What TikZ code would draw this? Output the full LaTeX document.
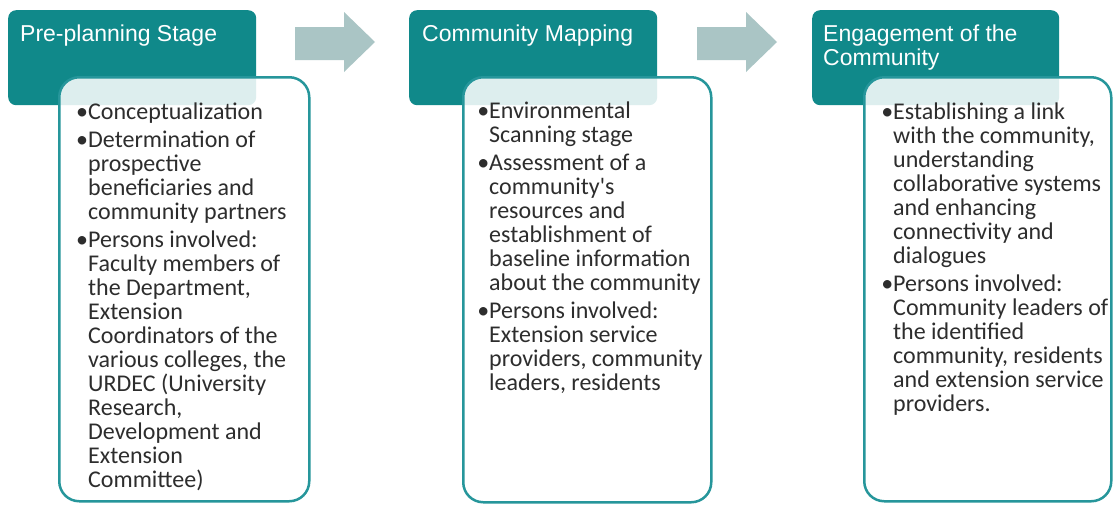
\documentclass[tikz,border=0pt]{standalone}
\usepackage{fontspec}
\setmainfont{Carlito}[Ligatures=TeXOff]
\newfontfamily\hdfont{Liberation Sans}
\definecolor{hdteal}{RGB}{16,137,138}
\definecolor{bdteal}{RGB}{38,150,155}
\definecolor{arrowgray}{RGB}{170,197,197}
\definecolor{bodytext}{RGB}{45,45,45}
\tikzset{
  header/.style={fill=hdteal, draw=none, rounded corners=8pt, anchor=north west, inner sep=0pt},
  card/.style={draw=bdteal, line width=2.5pt, fill=white, fill opacity=0.86, rounded corners=20pt, anchor=north west, inner sep=0pt},
  title/.style={text=white, font=\hdfont\fontsize{23}{24}\selectfont, anchor=north west, inner sep=0pt, align=left},
  body/.style={text=bodytext, font=\fontsize{24}{24}\selectfont, anchor=north west, inner sep=0pt, align=left},
  blockarrow/.style={fill=arrowgray, draw=none}
}
\newcommand{\bu}{\llap{•}}
\begin{document}
\begin{tikzpicture}[x=1pt,y=-1pt]
\useasboundingbox (0,0) rectangle (1114,504);
\fill[white] (0,0) rectangle (1114,504);
% block arrows
\fill[blockarrow] (295,27) -- (344,27) -- (344,12) -- (375,42) -- (344,72) -- (344,60) -- (295,60) -- cycle;
\fill[blockarrow] (697,27) -- (746,27) -- (746,12) -- (777,42) -- (746,72) -- (746,60) -- (697,60) -- cycle;
% header boxes
\node[header, minimum width=248pt, minimum height=95pt] (h1) at (8,10) {};
\node[header, minimum width=248pt, minimum height=95pt] (h2) at (409,10) {};
\node[header, minimum width=247pt, minimum height=95pt] (h3) at (812,10) {};
\node[title] (t1) at (20,25) {Pre-planning Stage};
\node[title] (t2) at (422,25) {Community Mapping};
\node[title] (t3) at (823,25) {Engagement of the\\Community};
% cards
\node[card, minimum width=250pt, minimum height=424pt] (c1) at (58,76) {};
\node[card, minimum width=248pt, minimum height=425pt] (c2) at (462,76) {};
\node[card, minimum width=247pt, minimum height=424pt] (c3) at (863,76) {};
% body texts
\node[body] (b1) at (88,103) {\bu Conceptualization\\[4pt]
\bu Determination of\\
prospective\\
beneficiaries and\\
community partners\\[4pt]
\bu Persons involved:\\
Faculty members of\\
the Department,\\
Extension\\
Coordinators of the\\
various colleges, the\\
URDEC (University\\
Research,\\
Development and\\
Extension\\
Committee)};
\node[body] (b2) at (489,102) {\bu Environmental\\
Scanning stage\\[4pt]
\bu Assessment of a\\
community's\\
resources and\\
establishment of\\
baseline information\\
about the community\\[4pt]
\bu Persons involved:\\
Extension service\\
providers, community\\
leaders, residents};
\node[body] (b3) at (893,103) {\bu Establishing a link\\
with the community,\\
understanding\\
collaborative systems\\
and enhancing\\
connectivity and\\
dialogues\\[4pt]
\bu Persons involved:\\
Community leaders of\\
the identified\\
community, residents\\
and extension service\\
providers.};
\end{tikzpicture}
\end{document}
